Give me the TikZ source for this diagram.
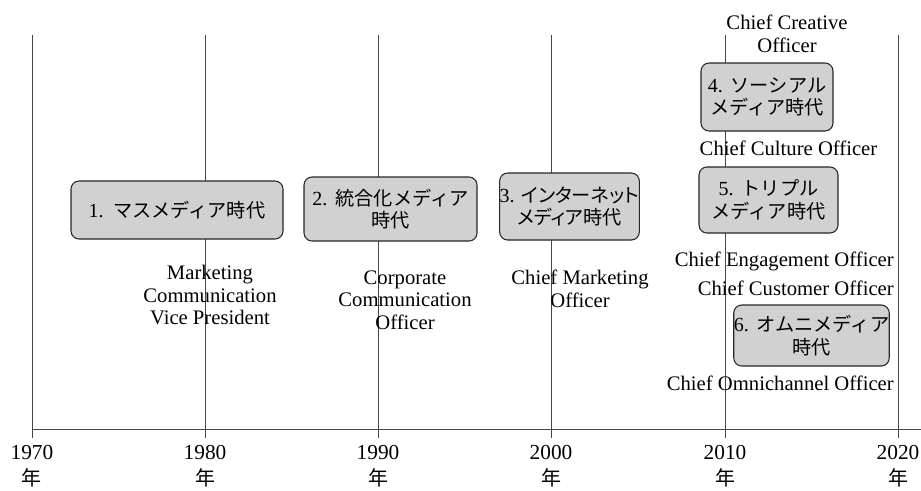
\documentclass[tikz,border=0pt]{standalone}
\usepackage{fontspec}
\setmainfont{Liberation Serif}
\newfontfamily\cjk{Noto Sans CJK JP}
\newfontfamily\cjkp[RawFeature=+palt]{Noto Sans CJK JP}
\newcommand\latn[1]{{\rmfamily\fontsize{15}{16.5}\selectfont #1}}
\begin{document}
\begin{tikzpicture}[x=0.75pt,y=-0.75pt,
  gridline/.style={draw=black!72, line width=0.7pt},
  era/.style={draw=black!85, line width=0.8pt, fill=black!18, rounded corners=6pt,
    align=center, inner sep=0pt, font=\cjk\fontsize{14.4}{16.8}\selectfont},
  lab/.style={align=center, inner sep=0pt, font=\fontsize{15.5}{16.8}\selectfont},
  rlab/.style={anchor=east, inner sep=0pt, font=\fontsize{15.5}{16.8}\selectfont},
  yr/.style={align=center, inner sep=0pt, font=\fontsize{16}{19.5}\selectfont}]
\useasboundingbox (0,0) rectangle (921,490);
% grid coordinates
\foreach \n/\x in {a/32,b/205,c/378,d/551,e/725,f/898}{
  \coordinate (t\n) at (\x,35);
  \coordinate (b\n) at (\x,438);
}
\coordinate (axL) at (32,429);
\coordinate (axR) at (921,429);
\foreach \n in {a,b,c,d,e,f}{\draw[gridline] (t\n) -- (b\n);}
\draw[gridline] (axL) -- (axR);
% year labels
\node[yr] (y1970) at (32,466) {1970\\{\cjk\fontsize{15}{19.5}\selectfont 年}};
\node[yr] (y1980) at (205,466) {1980\\{\cjk\fontsize{15}{19.5}\selectfont 年}};
\node[yr] (y1990) at (378,466) {1990\\{\cjk\fontsize{15}{19.5}\selectfont 年}};
\node[yr] (y2000) at (551,466) {2000\\{\cjk\fontsize{15}{19.5}\selectfont 年}};
\node[yr] (y2010) at (725,466) {2010\\{\cjk\fontsize{15}{19.5}\selectfont 年}};
\node[yr] (y2020) at (898,466) {2020\\{\cjk\fontsize{15}{19.5}\selectfont 年}};
% era boxes
\node[era, minimum width=159pt, minimum height=43.5pt] (e1) at (177,210)
  {\latn{1.}\hspace{7pt}マスメディア時代};
\node[era, minimum width=129.75pt, minimum height=48pt] (e2) at (390.5,209)
  {\latn{2.}\hspace{6pt}統合化メディア\\時代};
\node[era, minimum width=102.75pt, minimum height=50.25pt, font=\cjkp\fontsize{14.4}{16.8}\selectfont] (e3) at (569.5,206.5)
  {\latn{3.}\hspace{5pt}インターネット\\メディア時代};
\node[era, minimum width=99pt, minimum height=51pt] (e4) at (767,97)
  {\latn{4.}\hspace{6pt}ソーシアル\\メディア時代};
\node[era, minimum width=104.25pt, minimum height=49.5pt] (e5) at (768.5,200)
  {\latn{5.}\hspace{6pt}トリプル\\メディア時代};
\node[era, minimum width=116.25pt, minimum height=45.75pt] (e6) at (811.5,335.5)
  {\latn{6.}\hspace{6pt}オムニメディア\\時代};
% officer labels
\node[lab] (l1) at (210,295) {Marketing\\Communication\\Vice President};
\node[lab] (l2) at (405,300) {Corporate\\Communication\\Officer};
\node[lab] (l3) at (580,289) {Chief Marketing\\Officer};
\node[lab] (l4) at (787,34) {Chief Creative\\Officer};
\node[lab] (l5) at (788.5,148) {Chief Culture Officer};
\node[rlab] (l6) at (894,261) {Chief Engagement Officer};
\node[rlab] (l7) at (894,288) {Chief Customer Officer};
\node[rlab] (l8) at (894,383) {Chief Omnichannel Officer};
\end{tikzpicture}
\end{document}
